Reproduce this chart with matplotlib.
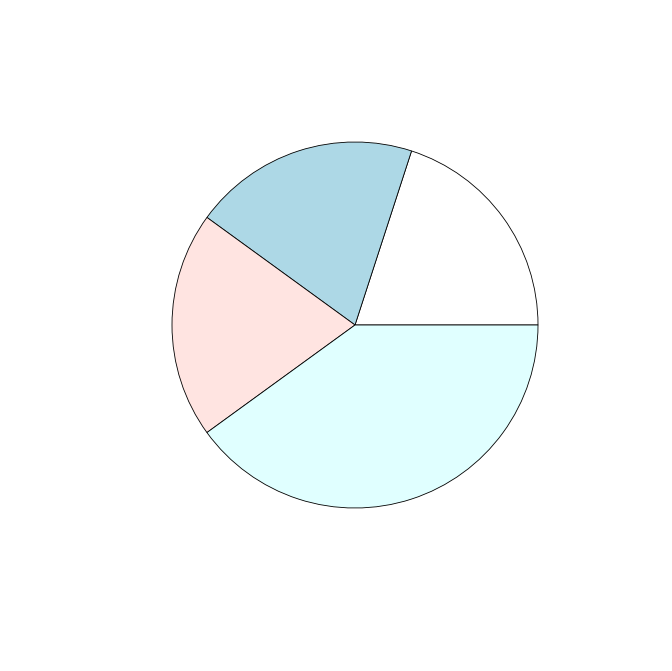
import matplotlib
matplotlib.use("Agg")
import matplotlib.pyplot as plt

# slice values, counter-clockwise from 3 o'clock (R pie defaults)
values = [1, 1, 1, 2]
colors = ["white", "lightblue", "mistyrose", "lightcyan"]

fig = plt.figure(figsize=(6.72, 6.71), dpi=100)

# centre at (355, 325) px, radius ~183 px
cx, cy, r = 355 / 672, 1 - 325 / 671, 183
ax = fig.add_axes([cx - r / 672, cy - r / 671, 2 * r / 672, 2 * r / 671])

wedges, _ = ax.pie(values, colors=colors, startangle=0, counterclock=True, radius=1,
                   wedgeprops=dict(edgecolor="black", linewidth=0.6))
for w in wedges:
    w.set_clip_on(False)
ax.set_xlim(-1, 1)
ax.set_ylim(-1, 1)
ax.set_aspect("equal")
ax.axis("off")

fig.savefig("out.png", dpi=100, facecolor="white")
